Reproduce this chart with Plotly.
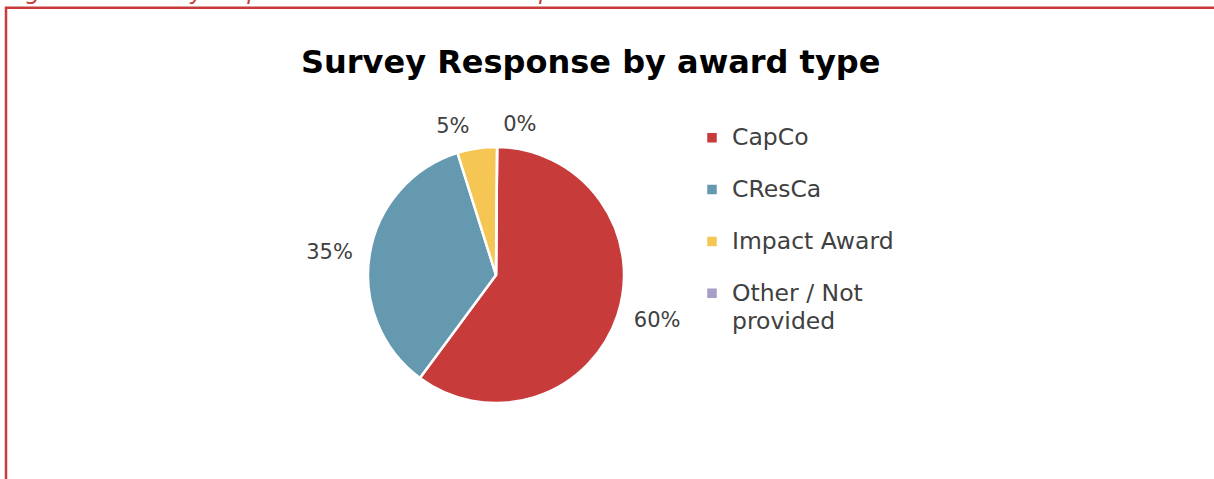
import plotly.graph_objects as go

# Data
categories = ["CapCo", "CResCa", "Impact Award", "Other / Not<br>provided"]
responses = [12, 7, 1, 0]
slice_colors = ["#C83B3B", "#6599B0", "#F6C655", "#A89CC8"]
title_text = "Survey Response by award type"
caption_text = "Figure 10 Survey response rate and data completeness"

W, H = 1214, 479
FONT = "DejaVu Sans"
LEG_SIZE = 18.8  # controls item spacing
TXT_SIZE = 23.5

def px_x(p):
    return p / W

def px_y(p):
    return 1 - p / H

# legend labels: visible size via span, extra blank line to space entries
leg_labels = []
for c in categories:
    parts = c.split("<br>")
    spans = [f"<span style='font-size:{TXT_SIZE}px'>{p}</span>" for p in parts]
    if len(parts) == 1:
        body = spans[0] + "<br> "
    else:
        body = spans[0] + "".join(f"<br><sub>{s}</sub>" for s in spans[1:])
    leg_labels.append(body)

cx, cy, r = 496, 275, 128
r_lab = r + 11

fig = go.Figure()
fig.add_trace(go.Pie(
    labels=leg_labels,
    values=responses,
    marker=dict(colors=slice_colors, line=dict(color="white", width=2.5)),
    sort=False,
    direction="clockwise",
    rotation=0.5,
    textinfo="none",
    domain=dict(x=[px_x(cx - r), px_x(cx + r)], y=[px_y(cy + r), px_y(cy - r)]),
    hoverinfo="label+percent",
))
# label ring (transparent) so the percentages sit a little further out
fig.add_trace(go.Pie(
    labels=leg_labels,
    values=responses,
    marker=dict(colors=["rgba(0,0,0,0)"] * len(responses), line=dict(width=0)),
    sort=False,
    direction="clockwise",
    rotation=0.5,
    texttemplate="%{percent:.0%}",
    textposition="outside",
    textfont=dict(family=FONT, size=21, color="#404040"),
    domain=dict(x=[px_x(cx - r_lab), px_x(cx + r_lab)], y=[px_y(cy + r_lab), px_y(cy - r_lab)]),
    hoverinfo="skip",
    showlegend=False,
))

fig.update_layout(
    width=W, height=H,
    margin=dict(l=0, r=0, t=0, b=0),
    paper_bgcolor="white",
    plot_bgcolor="white",
    font=dict(family=FONT, color="#404040"),
    showlegend=True,
    legend=dict(
        x=px_x(692), y=px_y(119), xanchor="left", yanchor="top",
        font=dict(family=FONT, size=LEG_SIZE, color="#404040"),
        valign="top",
        itemwidth=30,
        bgcolor="rgba(0,0,0,0)",
    ),
    annotations=[
        dict(text=f"<b>{title_text}</b>", x=px_x(590), y=px_y(62), xref="paper", yref="paper",
             xanchor="center", yanchor="middle", showarrow=False,
             font=dict(family=FONT, size=32, color="black")),
        dict(text=f"<i>{caption_text}</i>", x=px_x(4), y=px_y(6), xref="paper", yref="paper",
             xanchor="left", yanchor="bottom", showarrow=False,
             font=dict(family=FONT, size=23.2, color="#C83B3B")),
    ],
    shapes=[
        dict(type="rect", xref="paper", yref="paper",
             x0=px_x(6), x1=px_x(1230), y0=px_y(500), y1=px_y(7.8),
             line=dict(color="#C83B3B", width=2.5), fillcolor="rgba(0,0,0,0)"),
    ],
)

fig.write_html("out.html", config={"displayModeBar": False},
               post_script="document.body.style.margin='0px';")
